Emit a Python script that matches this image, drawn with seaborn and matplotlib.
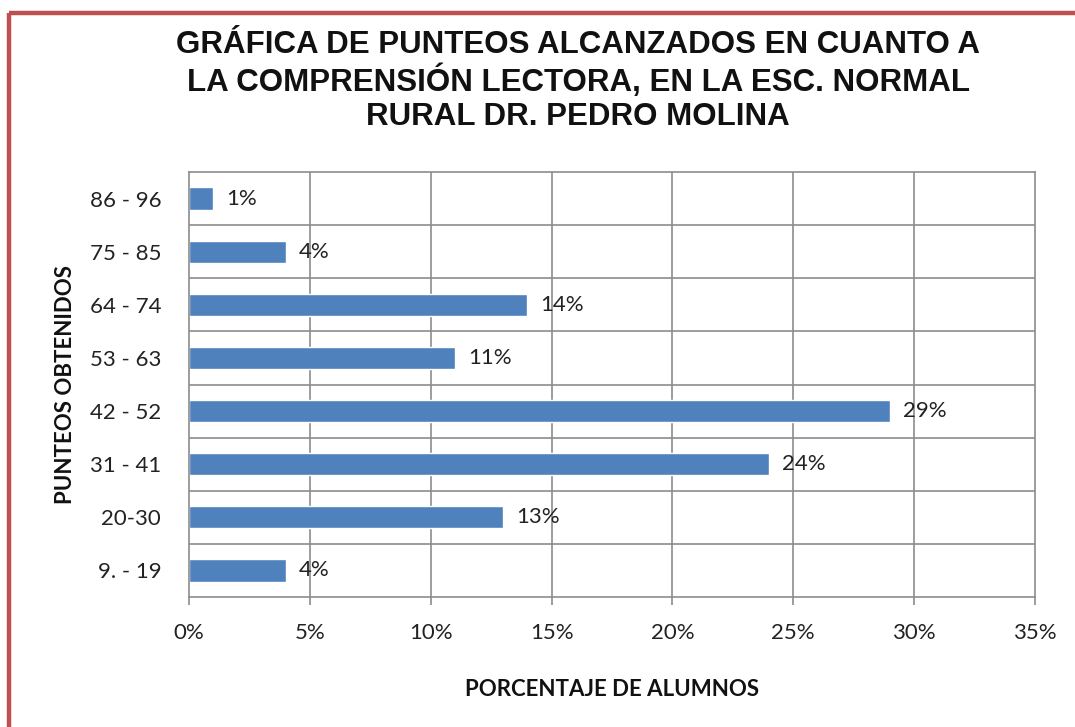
import matplotlib
matplotlib.use("Agg")
import matplotlib.pyplot as plt
from matplotlib.lines import Line2D
from matplotlib.ticker import MultipleLocator, PercentFormatter
import seaborn as sns
import pandas as pd

# data (top row first)
rangos = ["86 - 96", "75 - 85", "64 - 74", "53 - 63", "42 - 52", "31 - 41", "20-30", "9. - 19"]
porcentajes = [1, 4, 14, 11, 29, 24, 13, 4]

titulo = "GRÁFICA DE PUNTEOS ALCANZADOS EN CUANTO A\nLA COMPRENSIÓN LECTORA, EN LA ESC. NORMAL\nRURAL DR. PEDRO MOLINA"

df = pd.DataFrame({"rango": rangos, "pct": porcentajes})

sns.set_theme(style="white")
plt.rcParams["font.family"] = ["Lato", "DejaVu Sans"]

fig = plt.figure(figsize=(10.75, 7.27), dpi=100)
ax = fig.add_axes([189 / 1075, 1 - 597 / 727, (1035 - 189) / 1075, (597 - 172) / 727])

sns.barplot(data=df, x="pct", y="rango", order=rangos, color="#4F81BD",
            saturation=1, width=0.42, ax=ax, orient="h")

# value labels
for i, v in enumerate(porcentajes):
    ax.text(v + 0.55, i, f"{v}%", va="center", ha="left", fontsize=16, color="#222222")

ax.set_xlim(0, 35)
ax.set_ylim(len(rangos) - 0.5, -0.5)
ax.xaxis.set_major_locator(MultipleLocator(5))
ax.xaxis.set_major_formatter(PercentFormatter(decimals=0))

# grid: vertical at each 5%, horizontal between categories
grid_col = "#8c8c8c"
for x in range(5, 35, 5):
    ax.axvline(x, color=grid_col, lw=1.2, zorder=0)
for k in range(1, len(rangos)):
    ax.axhline(k - 0.5, color=grid_col, lw=1.2, zorder=0)
for s in ax.spines.values():
    s.set_color(grid_col)
    s.set_linewidth(1.2)

ax.tick_params(axis="x", bottom=True, length=6, width=1.2, color=grid_col,
               pad=13, labelsize=16, labelcolor="#222222")
ax.tick_params(axis="y", left=False, pad=14, labelsize=16, labelcolor="#222222")

ax.set_xlabel("PORCENTAJE DE ALUMNOS", fontsize=16, fontweight="bold",
              color="#111111", labelpad=26)
ax.set_ylabel("PUNTEOS OBTENIDOS", fontsize=16, fontweight="bold",
              color="#111111", labelpad=10)

fig.text(0.538, 1 - 30 / 727, titulo, ha="center", va="top", fontsize=22.5,
         fontweight="bold", family="Liberation Sans", linespacing=1.17, color="#111111")

# red frame (left and top edges)
red = "#C0504D"
fig.add_artist(Line2D([9 / 1075, 9 / 1075], [0, 1 - 13 / 727], color=red, lw=3.2,
                      transform=fig.transFigure, solid_capstyle="butt"))
fig.add_artist(Line2D([9 / 1075, 1], [1 - 13 / 727, 1 - 13 / 727], color=red, lw=3.2,
                      transform=fig.transFigure, solid_capstyle="butt"))

fig.savefig("out.png", dpi=100)
